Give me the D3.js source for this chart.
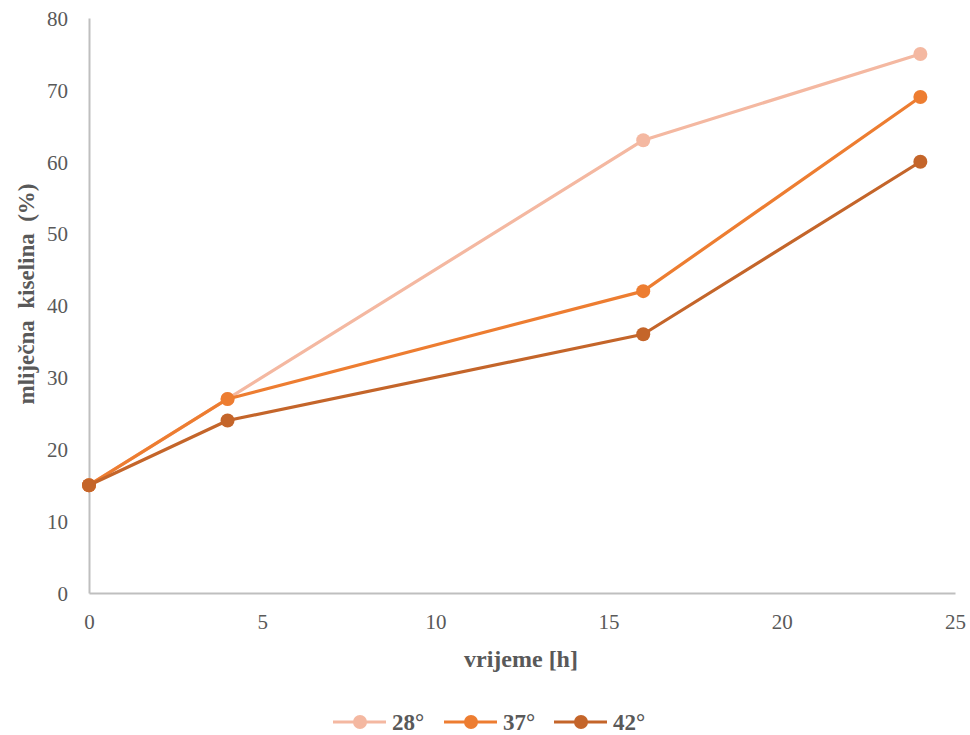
<!DOCTYPE html>
<html><head><meta charset="utf-8">
<script src="https://cdn.jsdelivr.net/npm/d3@7"></script>
<style>body{margin:0;background:#fff}svg{display:block}</style>
</head><body>
<svg id="c" width="970" height="735"></svg>
<script>
const xValues = [0, 4, 16, 24];
const seriesNames = ["28°", "37°", "42°"];
const s28 = [15, 27, 63, 75];
const s37 = [15, 27, 42, 69];
const s42 = [15, 24, 36, 60];
const colors = ["#f4b8a1", "#ed7d31", "#c4652a"];
const xTicks = [0, 5, 10, 15, 20, 25];
const yTicks = [0, 10, 20, 30, 40, 50, 60, 70, 80];
const xTitle = "vrijeme [h]";
const yTitle = "mliječna  kiselina  (%)";

const series = [s28, s37, s42];
const svg = d3.select("#c");
const font = "'Liberation Serif', 'Times New Roman', serif";
const x = d3.scaleLinear().domain([0, 25]).range([89, 955]);
const y = d3.scaleLinear().domain([0, 80]).range([593, 18]);

// axes
const gx = svg.append("g").attr("transform", "translate(0,593)")
  .call(d3.axisBottom(x).tickValues(xTicks).tickSize(0));
const gy = svg.append("g").attr("transform", "translate(89,0)")
  .call(d3.axisLeft(y).tickValues(yTicks).tickSize(0).tickPadding(21));
[gx, gy].forEach(g => {
  g.select(".domain").attr("stroke", "#bfbfbf").attr("stroke-width", 2);
  g.selectAll("text").attr("font-family", font).attr("font-size", 21).attr("fill", "#595959");
});
gy.selectAll("text").attr("dy", "0.35em");
gx.selectAll("text").attr("dy", "0.35em").attr("y", 29);

// titles
svg.append("text").attr("x", 521).attr("y", 667).attr("text-anchor", "middle")
  .attr("font-family", font).attr("font-size", 24).attr("font-weight", "bold").attr("fill", "#595959")
  .text(xTitle);
svg.append("text").attr("transform", "translate(34,294) rotate(-90)").attr("text-anchor", "middle")
  .attr("font-family", font).attr("font-size", 23).attr("font-weight", "bold").attr("fill", "#595959")
  .attr("xml:space", "preserve").style("white-space", "pre")
  .text(yTitle);

// lines
const line = d3.line().x((d, i) => x(xValues[i])).y(d => y(d));
series.forEach((s, k) => {
  const g = svg.append("g");
  g.append("path").datum(s).attr("d", line).attr("fill", "none")
    .attr("stroke", colors[k]).attr("stroke-width", 3.2).attr("stroke-linejoin", "round");
  g.selectAll("circle").data(s).join("circle")
    .attr("cx", (d, i) => x(xValues[i])).attr("cy", d => y(d)).attr("r", 7)
    .attr("fill", colors[k]);
});

// legend
const legX = [333, 444, 554];
seriesNames.forEach((n, k) => {
  const g = svg.append("g").attr("transform", `translate(${legX[k]},722)`);
  g.append("line").attr("x1", 0).attr("x2", 53).attr("stroke", colors[k]).attr("stroke-width", 3.2);
  g.append("circle").attr("cx", 27).attr("r", 7).attr("fill", colors[k]);
  g.append("text").attr("x", 59).attr("dy", "0.35em").attr("font-family", font)
    .attr("font-size", 23).attr("font-weight", "bold").attr("fill", "#595959").text(n);
});
</script>
</body></html>
